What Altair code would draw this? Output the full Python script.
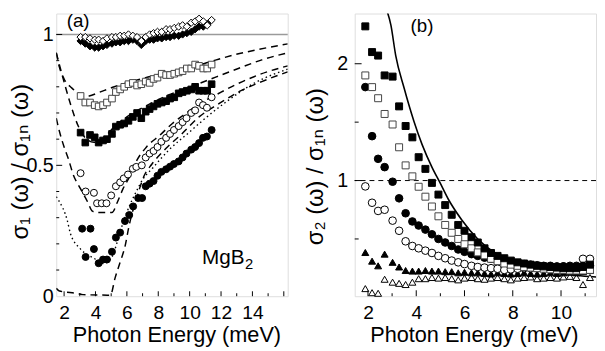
import altair as alt
import pandas as pd

FONT = "Liberation Sans, DejaVu Sans, sans-serif"

# ================= Panel (a): sigma1 / sigma1n =================
a_energy = [3.05, 3.35, 3.65, 3.95, 4.2, 4.48, 4.73, 5.05, 5.3, 5.57, 5.83, 6.1, 6.38, 6.65, 6.92, 7.2,
            7.45, 7.7, 7.95, 8.22, 8.5, 8.75, 9.02, 9.3, 9.55, 9.82, 10.1, 10.35, 10.6, 10.87, 11.12, 11.4]
a_open_diamond = [0.99, 0.99, 0.985, 0.98, 0.98, 0.975, 0.985, 0.99, 0.99, 0.995, 0.995, 1.0, 0.995, 0.99,
                  0.975, 0.99, 1.0, 1.005, 1.01, 1.01, 1.02, 1.02, 1.025, 1.03, 1.035, 1.03, 1.045, 1.05,
                  1.06, 1.05, 1.035, 1.055]
a_filled_diamond = [0.975, 0.965, 0.955, 0.95, 0.95, 0.955, 0.96, 0.965, 0.97, 0.97, 0.975, 0.975, 0.98,
                    0.975, 0.96, 0.975, 0.98, 0.98, 0.985, 0.985, 0.99, 0.99, 0.995, 0.995, 1.0, 1.005,
                    1.01, 1.02, 1.03, 1.03, 1.04]
a_open_square = [0.765, 0.74, 0.74, 0.73, 0.725, 0.73, 0.74, 0.755, 0.78, 0.79, 0.80, 0.81, 0.815, 0.805,
                 0.81, 0.82, 0.815, 0.83, 0.835, 0.85, 0.845, 0.845, 0.85, 0.855, 0.86, 0.87, 0.87, 0.885,
                 0.88, 0.87, 0.87, 0.885]
a_filled_square = [0.625, 0.587, 0.616, 0.607, 0.587, 0.595, 0.60, 0.62, 0.648, 0.655, 0.66, 0.67, 0.685,
                   0.70, 0.68, 0.705, 0.715, 0.725, 0.735, 0.74, 0.745, 0.755, 0.76, 0.775, 0.78, 0.785,
                   0.79, 0.80, 0.785, 0.785, 0.785, 0.81]
a_oc_energy = [3.05, 3.37, 3.9, 4.1, 4.4, 4.7, 5.0, 5.3, 5.57, 5.8, 6.07, 6.38, 6.6, 6.95, 7.2, 7.45, 7.7,
               7.95, 8.2, 8.5, 8.75, 9.0, 9.3, 9.55, 9.8, 10.1, 10.35, 10.6, 10.85, 11.1, 11.4]
a_open_circle = [0.47, 0.40, 0.395, 0.355, 0.355, 0.355, 0.385, 0.42, 0.435, 0.45, 0.465, 0.487, 0.494,
                 0.50, 0.53, 0.545, 0.555, 0.57, 0.59, 0.605, 0.62, 0.635, 0.65, 0.665, 0.68, 0.70, 0.71,
                 0.74, 0.73, 0.72, 0.76]
a_fc_energy = [3.15, 3.37, 3.68, 3.9, 4.2, 4.48, 4.73, 5.05, 5.3, 5.57, 5.88, 6.15, 6.4, 6.72, 6.97, 7.2,
               7.45, 7.7, 7.95, 8.2, 8.5, 8.75, 9.0, 9.3, 9.55, 9.8, 10.1, 10.35, 10.6, 10.85, 11.1, 11.4]
a_filled_circle = [0.258, 0.15, 0.258, 0.18, 0.126, 0.14, 0.14, 0.17, 0.224, 0.243, 0.287, 0.31, 0.343,
                   0.375, 0.375, 0.42, 0.43, 0.44, 0.46, 0.475, 0.485, 0.495, 0.505, 0.515, 0.53, 0.545,
                   0.56, 0.57, 0.585, 0.605, 0.61, 0.635]

# theory curves
a_c1_x = [1.5, 1.7, 2.0, 2.5, 3.0, 3.3, 3.6, 4.2, 5.2, 7.0, 8.7, 10.2, 11.7, 12.9, 14.4, 16.25]
a_c1_y = [0.93, 0.875, 0.83, 0.795, 0.772, 0.762, 0.765, 0.778, 0.80, 0.832, 0.856, 0.876, 0.903, 0.923, 0.943, 0.964]
a_c2_x = [1.5, 1.9, 2.4, 2.9, 3.35, 3.9, 4.3, 5.0, 6.0, 7.25, 8.7, 10.2, 11.7, 13.1, 14.6, 16.25]
a_c2_y = [0.93, 0.84, 0.735, 0.65, 0.605, 0.588, 0.59, 0.635, 0.685, 0.728, 0.77, 0.803, 0.838, 0.87, 0.903, 0.93]
a_c3_x = [1.5, 1.7, 2.0, 2.3, 2.55, 3.05, 3.5, 3.8, 4.1, 5.05, 5.4, 5.75, 6.2, 6.6, 7.25, 8.1, 8.9, 9.8,
          10.6, 11.7, 13.0, 14.5, 16.25]
a_c3_y = [0.68, 0.63, 0.57, 0.52, 0.47, 0.41, 0.36, 0.325, 0.32, 0.32, 0.36, 0.41, 0.46, 0.515, 0.57, 0.615,
          0.66, 0.70, 0.735, 0.77, 0.81, 0.848, 0.88]
a_c4_x = [1.5, 1.66, 2.2, 2.4, 3.05, 3.9, 4.5, 5.05, 5.4, 5.75, 6.2, 6.6, 7.0, 7.65, 8.7, 9.95, 11.0, 12.5, 14.0, 16.25]
a_c4_y = [0.38, 0.365, 0.29, 0.24, 0.18, 0.145, 0.125, 0.15, 0.21, 0.28, 0.35, 0.40, 0.445, 0.49, 0.56, 0.625,
          0.68, 0.75, 0.81, 0.868]
a_c5_x = [1.5, 1.7, 2.9, 3.2, 4.95, 5.25, 5.57, 5.9, 6.1, 6.3, 6.55, 6.8, 7.1, 7.6, 8.5, 9.5, 10.6, 11.85,
          13.1, 14.6, 16.25]
a_c5_y = [0.03, 0.02, 0.01, 0.006, 0.004, 0.07, 0.13, 0.195, 0.257, 0.31, 0.36, 0.41, 0.46, 0.505, 0.565,
          0.62, 0.685, 0.735, 0.78, 0.82, 0.857]

a_xticks_major = [2, 4, 6, 8, 10, 12, 14, 16]
a_xticks_minor = [3, 5, 7, 9, 11, 13, 15]
a_yticks_major = [0.5, 1.0]
a_yticks_minor = [0.1, 0.2, 0.3, 0.4, 0.6, 0.7, 0.8, 0.9]

# ================= Panel (b): sigma2 / sigma1n =================
b_energy = [1.89, 2.17, 2.42, 2.69, 3.02, 3.29, 3.56, 3.84, 4.1, 4.38, 4.65, 4.92, 5.2, 5.47, 5.74, 6.0,
            6.29, 6.55, 6.83, 7.1, 7.37, 7.65, 7.92, 8.2, 8.47, 8.74, 9.01, 9.28, 9.56, 9.83, 10.1, 10.37,
            10.64, 10.91, 11.2]
b_filled_square = [2.32, 2.10, 2.07, 1.90, 1.89, 1.635, 1.467, 1.37, 1.20, 1.10, 0.98, 0.88, 0.79, 0.707,
                   0.62, 0.57, 0.515, 0.47, 0.42, 0.38, 0.355, 0.335, 0.315, 0.30, 0.29, 0.28, 0.27, 0.265,
                   0.26, 0.255, 0.25, 0.25, 0.25, 0.26, 0.28]
b_open_square = [1.90, 1.80, 1.705, 1.57, 1.48, 1.285, 1.13, 1.036, 0.947, 0.862, 0.778, 0.694, 0.62,
                 0.553, 0.50, 0.455, 0.42, 0.385, 0.36, 0.33, 0.31, 0.29, 0.28, 0.27, 0.26, 0.255, 0.25,
                 0.245, 0.24, 0.235, 0.235, 0.23, 0.23, 0.23, 0.235]
b_filled_circle = [1.80, 1.38, 1.186, 1.115, 0.99, 0.848, 0.72, 0.65, 0.615, 0.58, 0.54, 0.50, 0.47, 0.44,
                   0.41, 0.39, 0.37, 0.355, 0.34, 0.33, 0.32, 0.31, 0.30, 0.29, 0.285, 0.28, 0.275, 0.27,
                   0.27, 0.265, 0.265, 0.265, 0.265, 0.27, 0.27]
b_open_circle = [0.95, 0.81, 0.74, 0.75, 0.657, 0.57, 0.48, 0.44, 0.42, 0.40, 0.38, 0.355, 0.335, 0.315,
                 0.30, 0.285, 0.27, 0.26, 0.255, 0.25, 0.245, 0.235, 0.24, 0.245, 0.25, 0.25, 0.25, 0.255,
                 0.26, 0.26, 0.265, 0.27, 0.27, 0.33, 0.33]
b_filled_triangle = [0.384, 0.31, 0.27, 0.37, 0.30, 0.26, 0.23, 0.225, 0.225, 0.23, 0.225, 0.225, 0.22,
                     0.22, 0.21, 0.215, 0.21, 0.21, 0.205, 0.20, 0.21, 0.205, 0.20, 0.205, 0.21, 0.205, 0.20,
                     0.205, 0.21, 0.205, 0.21, 0.215, 0.21, 0.22, 0.23]
b_open_triangle = [0.075, 0.04, 0.035, 0.155, 0.13, 0.12, 0.11, 0.13, 0.16, 0.16, 0.17, 0.165, 0.17, 0.16,
                   0.15, 0.165, 0.17, 0.16, 0.155, 0.165, 0.17, 0.16, 0.15, 0.165, 0.17, 0.175, 0.16, 0.165,
                   0.17, 0.165, 0.175, 0.18, 0.17, 0.11, 0.17]
b_curve_x = [2.7, 2.95, 3.15, 3.5, 3.9, 4.24, 4.65, 5.0, 5.33, 5.88, 6.55, 7.24, 7.92, 8.6, 9.28, 9.96,
             10.64, 11.45]
b_curve_y = [2.5, 2.33, 2.07, 1.79, 1.51, 1.31, 1.115, 0.975, 0.84, 0.665, 0.50, 0.384, 0.314, 0.27,
             0.243, 0.215, 0.19, 0.175]

b_xticks_major = [2, 4, 6, 8, 10]
b_xticks_minor = [3, 5, 7, 9, 11]
b_yticks_major = [1, 2]
b_yticks_minor = [0.5, 1.5]

# ================= Layout constants =================
A_W, B_W, H = 235, 245, 287

xa = alt.Scale(domain=[1.5, 16.25], nice=False, zero=False)
ya = alt.Scale(domain=[0, 1.08], nice=False, zero=False)
xb = alt.Scale(domain=[1.45, 11.45], nice=False, zero=False)
yb = alt.Scale(domain=[0.01, 2.43], nice=False, zero=False)

common = dict(ticks=False, domain=False, grid=False, labelFont=FONT, titleFont=FONT,
              labelColor="black", titleColor="black", titleFontWeight="normal", labelFlush=False)

ax_a_x = alt.Axis(values=[2, 4, 6, 8, 10, 12, 14], title="Photon Energy (meV)", tickSize=0,
                  labelPadding=8, labelFontSize=19.5, titleFontSize=22,
                  titleX=122, titleY=46, titleBaseline="alphabetic", **common)
ax_a_y = alt.Axis(values=[0, 0.5, 1], format=".1~f", title="σ₁ (ω) / σ₁ₙ (ω)", labelPadding=3,
                  labelFontSize=20, titleFontSize=24,
                  titleX=-36, titleY=150, titleBaseline="middle", titleAngle=270, **common)
ax_b_x = alt.Axis(values=[2, 4, 6, 8, 10], title="Photon Energy (meV)", tickSize=0,
                  labelPadding=8, labelFontSize=19.5, titleFontSize=22,
                  titleX=121, titleY=46, titleBaseline="alphabetic", **common)
ax_b_y = alt.Axis(values=[1, 2], format="d", title="σ₂ (ω) / σ₁ₙ (ω)", labelPadding=7,
                  labelFontSize=20, titleFontSize=24,
                  titleX=-40, titleY=155, titleBaseline="middle", titleAngle=270, **common)


def X(scale, axis):
    return alt.X("x:Q", scale=scale, axis=axis)


def Y(scale, axis):
    return alt.Y("y:Q", scale=scale, axis=axis)


def pts(xs, ys, sx, sy, axx, axy, shape, filled, size=55, stroke="black"):
    df = pd.DataFrame({"x": xs, "y": ys})
    return alt.Chart(df).mark_point(
        shape=shape, filled=True, size=size,
        fill="black" if filled else "white",
        stroke=stroke, strokeWidth=1, opacity=1,
    ).encode(x=X(sx, axx), y=Y(sy, axy))


def curve(xs, ys, sx, sy, axx, axy, dash=None, width=1.5, color="black"):
    df = pd.DataFrame({"x": xs, "y": ys})
    kw = dict(color=color, strokeWidth=width, clip=True, interpolate="monotone")
    if dash:
        kw["strokeDash"] = dash
    return alt.Chart(df).mark_line(**kw).encode(x=X(sx, axx), y=Y(sy, axy))


def xticks(vals, sx, axx, length):
    df = pd.DataFrame({"x": vals})
    return alt.Chart(df).mark_rule(color="black", strokeWidth=1).encode(
        x=X(sx, axx), y=alt.value(H), y2=alt.value(H - length))


def yticks(vals, sy, axy, length):
    df = pd.DataFrame({"y": vals})
    return alt.Chart(df).mark_rule(color="black", strokeWidth=1).encode(
        y=Y(sy, axy), x=alt.value(0), x2=alt.value(length))


def label(txt, x, y, sx, sy, axx, axy, size, baseline="middle", align="center"):
    df = pd.DataFrame({"x": [x], "y": [y], "t": [txt]})
    return alt.Chart(df).mark_text(font=FONT, fontSize=size, color="black", baseline=baseline,
                                   align=align).encode(x=X(sx, axx), y=Y(sy, axy), text="t:N")


DASH = [7, 5]
DOT = [1.5, 3]

# ---------- Panel (a) ----------
A = (xa, ya, ax_a_x, ax_a_y)
panel_a = alt.layer(
    alt.Chart(pd.DataFrame({"y": [1.0]})).mark_rule(color="#9a9a9a", strokeWidth=1.6).encode(y=Y(ya, ax_a_y)),
    curve(a_c1_x, a_c1_y, *A, dash=DASH),
    curve(a_c2_x, a_c2_y, *A, dash=DASH),
    curve(a_c3_x, a_c3_y, *A, dash=DASH),
    curve(a_c4_x, a_c4_y, *A, dash=DOT, width=1.4),
    curve(a_c5_x, a_c5_y, *A, dash=DASH),
    pts(a_energy[:len(a_filled_diamond)], a_filled_diamond, *A, "diamond", True),
    pts(a_energy, a_open_diamond, *A, "diamond", False),
    pts(a_energy, a_open_square, *A, "square", False, size=45, stroke="#444"),
    pts(a_energy, a_filled_square, *A, "square", True, size=45),
    pts(a_oc_energy, a_open_circle, *A, "circle", False, size=50),
    pts(a_fc_energy, a_filled_circle, *A, "circle", True, size=50),
    xticks(a_xticks_major, xa, ax_a_x, 5),
    xticks(a_xticks_minor, xa, ax_a_x, 3),
    yticks(a_yticks_major, ya, ax_a_y, 6),
    yticks(a_yticks_minor, ya, ax_a_y, 3),
    label("(a)", 2.89, 1.052, *A, 19),
    label("MgB", 10.79, 0.124, *A, 21, baseline="alphabetic", align="left"),
    label("2", 13.53, 0.105, *A, 15, baseline="alphabetic", align="left"),
).properties(width=A_W, height=H)

# ---------- Panel (b) ----------
B = (xb, yb, ax_b_x, ax_b_y)
panel_b = alt.layer(
    alt.Chart(pd.DataFrame({"y": [1.0]})).mark_rule(color="black", strokeWidth=1, strokeDash=[5, 4]).encode(
        y=Y(yb, ax_b_y)),
    curve(b_curve_x, b_curve_y, *B, width=1.6),
    pts(b_energy, b_open_triangle, *B, "triangle-up", False, size=50),
    pts(b_energy, b_filled_triangle, *B, "triangle-up", True, size=50),
    pts(b_energy, b_open_circle, *B, "circle", False, size=60),
    pts(b_energy, b_filled_circle, *B, "circle", True, size=60),
    pts(b_energy, b_open_square, *B, "square", False, size=50, stroke="#444"),
    pts(b_energy, b_filled_square, *B, "square", True, size=50),
    xticks(b_xticks_major, xb, ax_b_x, 6),
    xticks(b_xticks_minor, xb, ax_b_x, 3),
    yticks(b_yticks_major, yb, ax_b_y, 7),
    yticks(b_yticks_minor, yb, ax_b_y, 4),
    label("(b)", 4.24, 2.32, *B, 19),
).properties(width=B_W, height=H)

chart = alt.hconcat(panel_a, panel_b, spacing=68, bounds="flush").properties(padding=0).configure_view(
    stroke="black", strokeWidth=1.5
).configure(background="white")

chart.save("out.html", embed_options={"renderer": "svg", "actions": False})
